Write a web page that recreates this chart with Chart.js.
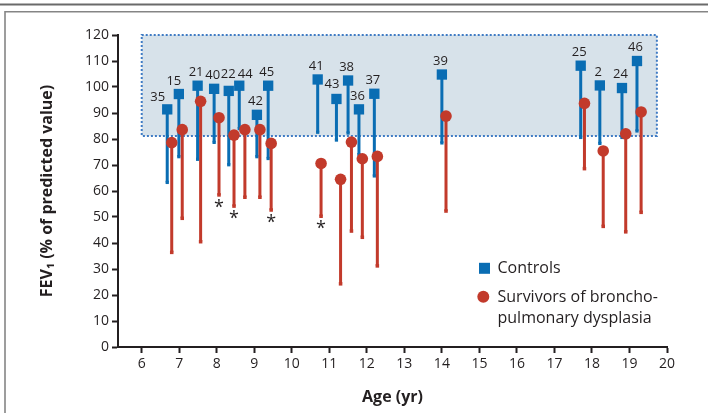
<!DOCTYPE html>
<html><head><meta charset="utf-8">
<script src="https://cdn.jsdelivr.net/npm/chart.js@4.4.0/dist/chart.umd.min.js"></script>
<style>html,body{margin:0;padding:0;background:#fff;}canvas{display:block;}</style>
</head><body>
<canvas id="c" width="708" height="413"></canvas>
<script>
// ---- Data ----
const participantIds = ['35','15','21','40','22','44','42','45','41','43','38','36','37','39','25','2','24','46'];
const controlAge  = [6.68, 6.99, 7.49, 7.93, 8.32, 8.60, 9.07, 9.37, 10.69, 11.19, 11.50, 11.79, 12.20, 14.00, 17.70, 18.21, 18.80, 19.20];
const controlMean = [91.4, 97.3, 100.5, 99.3, 98.5, 100.5, 89.3, 100.5, 102.9, 95.4, 102.5, 91.4, 97.4, 104.8, 108.2, 100.6, 99.6, 110.0];
const controlMin  = [63.3, 73.2, 72.2, 78.7, 70.1, 84.0, 73.2, 72.5, 82.6, 79.6, 82.3, 74.0, 65.8, 78.5, 80.6, 78.3, 80.6, 83.1];
const bpdAge      = [6.80, 7.08, 7.57, 8.06, 8.46, 8.75, 9.15, 9.45, 10.78, 11.30, 11.59, 11.88, 12.28, 14.11, 17.80, 18.30, 18.90, 19.31];
const bpdMean     = [78.6, 83.6, 94.5, 88.2, 81.5, 83.6, 83.6, 78.3, 70.6, 64.5, 78.8, 72.4, 73.3, 88.8, 93.7, 75.4, 82.0, 90.4];
const bpdMin      = [36.4, 49.5, 40.5, 58.5, 54.2, 57.6, 57.6, 52.7, 50.3, 24.3, 44.6, 42.2, 31.2, 52.3, 68.6, 46.4, 44.3, 51.8];
const bpdSignificant = [false,false,false,true,true,false,false,true,true,false,false,false,false,false,false,false,false,false];
const normalFevRange = [81.2, 120];
const normalAgeRange = [6, 19.73];
const xTickLabels = ['6','7','8','9','10','11','12','13','14','15','16','17','18','19','20'];
const yTickLabels = ['0','10','20','30','40','50','60','70','80','90','100','110','120'];
const seriesNames = ['Controls', 'Survivors of broncho-\npulmonary dysplasia'];

// ---- Styles ----
const BLUE = '#0a6db3';
const RED = '#c23a2b';
const TXT = '#231f20';
const FONT = "'Open Sans', 'DejaVu Sans', sans-serif";

const datasets = [];
controlAge.forEach((a, i) => {
  datasets.push({ data: [{x: a, y: controlMean[i]}, {x: a, y: controlMin[i]}], showLine: true,
    borderColor: BLUE, borderWidth: 3, pointRadius: 0, order: 6 });
});
datasets.push({ data: controlAge.map((a, i) => ({x: a, y: controlMin[i]})), pointStyle: 'rect',
  pointRadius: 2.3, pointBorderWidth: 0, backgroundColor: BLUE, order: 5 });
datasets.push({ data: controlAge.map((a, i) => ({x: a, y: controlMean[i]})), pointStyle: 'rect',
  pointRadius: 7.3, pointBorderWidth: 0, backgroundColor: BLUE, order: 4 });
bpdAge.forEach((a, i) => {
  datasets.push({ data: [{x: a, y: bpdMean[i]}, {x: a, y: bpdMin[i]}], showLine: true,
    borderColor: RED, borderWidth: 3, pointRadius: 0, order: 3 });
});
datasets.push({ data: bpdAge.map((a, i) => ({x: a, y: bpdMin[i]})), pointStyle: 'rect',
  pointRadius: 2.5, pointBorderWidth: 0, backgroundColor: RED, order: 2 });
datasets.push({ data: bpdAge.map((a, i) => ({x: a, y: bpdMean[i]})), pointStyle: 'circle',
  pointRadius: 5.8, pointBorderWidth: 0, backgroundColor: RED, order: 1 });

const framePlugin = {
  id: 'frame',
  beforeDraw(chart) {
    const ctx = chart.ctx;
    ctx.save();
    ctx.fillStyle = '#fff';
    ctx.fillRect(0, 0, chart.width, chart.height);
    ctx.strokeStyle = '#6a6a6a';
    ctx.lineWidth = 2;
    ctx.beginPath(); ctx.moveTo(0, 4.5); ctx.lineTo(chart.width, 4.5); ctx.stroke();
    ctx.strokeStyle = '#858585';
    ctx.lineWidth = 1.6;
    ctx.beginPath(); ctx.moveTo(5, chart.height); ctx.lineTo(5, 11.8); ctx.lineTo(chart.width, 11.8); ctx.stroke();
    ctx.restore();
  }
};

const rangePlugin = {
  id: 'range',
  beforeDatasetsDraw(chart) {
    const {ctx, scales: {x, y}} = chart;
    const x0 = x.getPixelForValue(normalAgeRange[0]), x1 = x.getPixelForValue(normalAgeRange[1]);
    const y0 = y.getPixelForValue(normalFevRange[1]), y1 = y.getPixelForValue(normalFevRange[0]);
    ctx.save();
    ctx.fillStyle = '#d7e2ea';
    ctx.fillRect(x0, y0, x1 - x0, y1 - y0);
    ctx.strokeStyle = '#3f7bc4';
    ctx.lineWidth = 2;
    ctx.setLineDash([2, 2]);
    ctx.strokeRect(x0, y0, x1 - x0, y1 - y0);
    ctx.restore();
  }
};

const labelNudge = {'35': [-8, 1.5], '15': [-3.5, 0.5], '44': [7.5, 2], '22': [1, -3], '43': [-3, -1]};
const annotatePlugin = {
  id: 'annotate',
  afterDatasetsDraw(chart) {
    const {ctx, scales: {x, y}} = chart;
    ctx.save();
    ctx.fillStyle = TXT;
    ctx.font = '13px ' + FONT;
    ctx.textAlign = 'center';
    ctx.textBaseline = 'middle';
    participantIds.forEach((id, i) => {
      const n = labelNudge[id] || [0, 0];
      ctx.fillText(id, x.getPixelForValue(controlAge[i]) - 1.5 + n[0], y.getPixelForValue(controlMean[i]) - 13.5 + n[1]);
    });
    ctx.font = '18px ' + FONT;
    ctx.textBaseline = 'top';
    bpdSignificant.forEach((s, i) => {
      if (!s) return;
      ctx.fillText('*', x.getPixelForValue(bpdAge[i]), y.getPixelForValue(bpdMin[i]) + 3.5);
    });
    // legend
    ctx.textAlign = 'left';
    ctx.textBaseline = 'middle';
    ctx.font = '16px ' + FONT;
    const lx = 484.5, tx = 497.5;
    ctx.fillStyle = BLUE;
    ctx.fillRect(lx - 5.5, 262.8, 11, 11);
    ctx.fillStyle = TXT;
    ctx.fillText(seriesNames[0], tx, 268);
    ctx.fillStyle = RED;
    ctx.beginPath(); ctx.arc(483.3, 296.7, 6, 0, Math.PI * 2); ctx.fill();
    ctx.fillStyle = TXT;
    seriesNames[1].split('\n').forEach((line, k) => ctx.fillText(line, tx, 297 + k * 21));
    ctx.restore();
  }
};

new Chart(document.getElementById('c'), {
  type: 'scatter',
  data: { datasets },
  options: {
    responsive: false,
    animation: false,
    events: [],
    layout: { padding: { top: 35, right: 41, bottom: 0, left: 0 } },
    plugins: { legend: { display: false }, tooltip: { enabled: false } },
    scales: {
      x: {
        type: 'linear', min: 5.368, max: 20,
        afterFit(s) { s.height = 66; },
        afterBuildTicks(s) { s.ticks = xTickLabels.map(v => ({value: Number(v)})); },
        ticks: { stepSize: 1, includeBounds: false, padding: 3, color: TXT,
          font: { family: FONT, size: 14 }, callback: (v) => xTickLabels[xTickLabels.indexOf(String(v))] },
        grid: { display: true, drawOnChartArea: false, drawTicks: true, tickLength: 6, tickWidth: 2, color: '#231f20' },
        border: { display: true, color: '#231f20', width: 2 },
        title: { display: true, text: 'Age (yr)', color: TXT, font: { family: FONT, size: 16, weight: 'bold' },
          padding: { top: 0, bottom: 6 } }
      },
      y: {
        type: 'linear', min: 0, max: 120,
        afterFit(s) { s.width = 118; },
        afterBuildTicks(s) { s.ticks = yTickLabels.map(v => ({value: Number(v)})); },
        ticks: { stepSize: 10, padding: 3, color: TXT, font: { family: FONT, size: 14 },
          callback: (v) => yTickLabels[yTickLabels.indexOf(String(v))] },
        grid: { display: true, drawOnChartArea: false, drawTicks: true, tickLength: 6, tickWidth: 2, color: '#231f20' },
        border: { display: true, color: '#231f20', width: 2 },
        title: { display: true, text: 'FEV\u2081 (% of predicted value)', color: TXT,
          font: { family: FONT, size: 16, weight: 'bold' }, padding: { top: 38, bottom: 0 } }
      }
    }
  },
  plugins: [framePlugin, rangePlugin, annotatePlugin]
});
</script>
</body></html>
